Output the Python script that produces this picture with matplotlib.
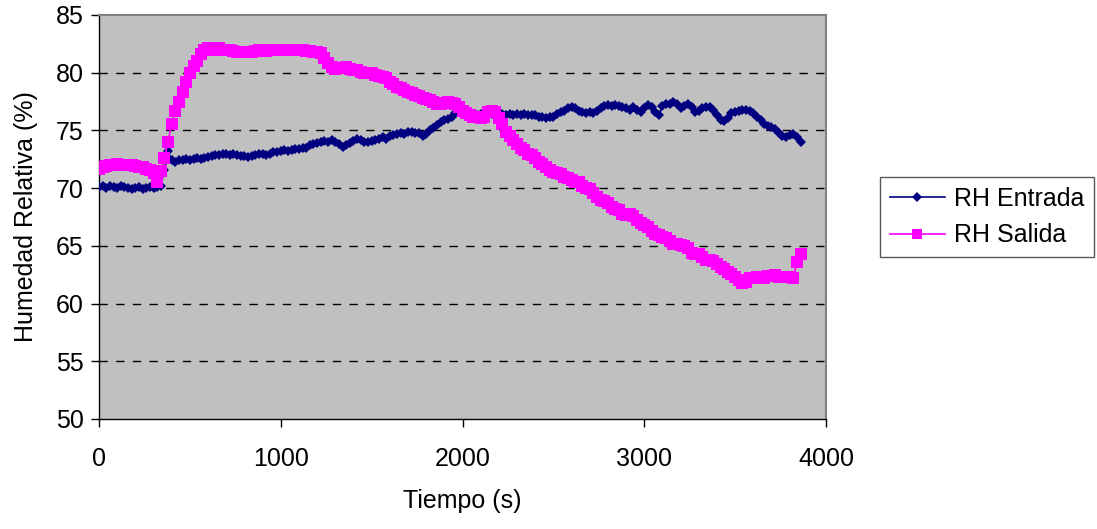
import numpy as np
import matplotlib
matplotlib.use("Agg")
import matplotlib.pyplot as plt

plt.rcParams['font.family'] = ['Liberation Sans', 'DejaVu Sans']

# Sampling times (s), one reading every 20 s
tiempo = np.arange(0, 3861, 20)

# Relative humidity at the inlet (%)
rh_entrada = [
    70.1, 70.2, 70.0, 70.2, 70.1, 70.0, 70.2, 70.1, 70.0, 69.9,
    70.0, 70.1, 69.9, 70.0, 70.1, 70.0, 70.1, 70.2, 71.6, 73.2,
    72.4, 72.3, 72.4, 72.4, 72.5, 72.4, 72.5, 72.6, 72.5, 72.6,
    72.7, 72.8, 72.9, 72.9, 73.0, 73.0, 72.9, 73.0, 72.9, 72.8,
    72.8, 72.7, 72.8, 72.9, 73.0, 73.0, 72.9, 73.0, 73.1, 73.1,
    73.2, 73.3, 73.2, 73.3, 73.4, 73.4, 73.5, 73.5, 73.7, 73.8,
    73.9, 74.0, 74.1, 74.0, 74.2, 74.0, 73.8, 73.6, 73.7, 73.9,
    74.1, 74.3, 74.2, 74.0, 74.0, 74.1, 74.2, 74.3, 74.4, 74.3,
    74.5, 74.6, 74.7, 74.8, 74.7, 74.9, 74.9, 74.8, 74.8, 74.5,
    74.7, 75.0, 75.2, 75.5, 75.7, 75.9, 76.0, 76.2, 76.5, 76.6,
    76.5, 76.4, 76.4, 76.3, 76.3, 76.4, 76.3, 76.3, 76.4, 76.3,
    76.3, 76.4, 76.3, 76.4, 76.3, 76.4, 76.3, 76.4, 76.3, 76.3,
    76.3, 76.2, 76.2, 76.1, 76.2, 76.2, 76.4, 76.6, 76.7, 76.9,
    77.0, 76.9, 76.7, 76.6, 76.5, 76.6, 76.5, 76.7, 76.9, 77.1,
    77.2, 77.1, 77.2, 77.1, 77.0, 76.9, 76.8, 77.0, 76.8, 76.6,
    76.9, 77.2, 77.0, 76.6, 76.3, 77.1, 77.3, 77.3, 77.5, 77.3,
    76.9, 77.1, 77.3, 77.0, 76.6, 76.7, 76.9, 77.0, 77.0, 76.8,
    76.3, 75.9, 75.8, 76.1, 76.5, 76.6, 76.7, 76.8, 76.8, 76.7,
    76.5, 76.2, 75.9, 75.6, 75.4, 75.3, 75.1, 74.8, 74.5, 74.4,
    74.6, 74.7, 74.4, 74.0,
]

# Relative humidity at the outlet (%)
rh_salida = [
    71.7, 71.8, 71.9, 72.0, 72.0, 72.1, 72.0, 72.0, 72.0, 72.0,
    71.9, 71.8, 71.8, 71.7, 71.6, 71.3, 70.5, 71.5, 72.6, 74.0,
    75.6, 76.7, 77.5, 78.3, 79.2, 80.0, 80.6, 81.0, 81.6, 82.0,
    82.1, 82.1, 82.0, 82.1, 82.0, 82.0, 82.0, 81.9, 81.8, 81.8,
    81.8, 81.8, 81.8, 81.9, 82.0, 82.0, 81.9, 82.0, 82.0, 82.0,
    82.0, 82.0, 82.0, 82.0, 82.0, 82.0, 82.0, 81.9, 81.9, 81.8,
    81.8, 81.7, 81.3, 80.8, 80.5, 80.3, 80.4, 80.4, 80.5, 80.3,
    80.2, 80.2, 80.1, 80.0, 80.0, 80.0, 79.8, 79.7, 79.6, 79.5,
    79.2, 79.0, 78.8, 78.7, 78.5, 78.3, 78.2, 78.1, 78.0, 77.8,
    77.7, 77.6, 77.5, 77.3, 77.3, 77.4, 77.5, 77.4, 77.3, 77.0,
    76.7, 76.5, 76.3, 76.2, 76.2, 76.1, 76.2, 76.6, 76.7, 76.6,
    76.1, 75.6, 74.9, 74.5, 74.2, 73.8, 73.5, 73.3, 73.0, 72.9,
    72.6, 72.3, 72.1, 71.8, 71.6, 71.4, 71.3, 71.2, 71.0, 70.9,
    70.7, 70.5, 70.5, 70.2, 70.0, 69.9, 69.6, 69.2, 69.0, 68.9,
    68.7, 68.4, 68.2, 68.1, 67.8, 67.7, 67.8, 67.6, 67.2, 67.0,
    66.8, 66.6, 66.3, 66.0, 65.9, 65.8, 65.7, 65.4, 65.2, 65.2,
    65.1, 65.0, 64.8, 64.4, 64.3, 64.3, 64.0, 63.8, 63.8, 63.7,
    63.4, 63.2, 63.0, 62.7, 62.6, 62.3, 62.0, 61.8, 61.9, 62.2,
    62.2, 62.3, 62.3, 62.2, 62.4, 62.4, 62.5, 62.3, 62.3, 62.3,
    62.3, 62.2, 63.6, 64.3,
]

x_ticks = [0, 1000, 2000, 3000, 4000]
y_ticks = [50, 55, 60, 65, 70, 75, 80, 85]

fig = plt.figure(figsize=(10.97, 5.29), dpi=100)
fig.patch.set_facecolor('white')
ax = fig.add_axes([99 / 1097, 1 - 419 / 529, 727 / 1097, 404 / 529])
ax.set_facecolor('#C0C0C0')

ax.plot(tiempo, rh_entrada, color='#000080', lw=1.2, marker='D',
        markersize=5.6, markeredgewidth=0, label='RH Entrada', zorder=3)
ax.plot(tiempo, rh_salida, color='#FF00FF', lw=1.2, marker='s',
        markersize=8.5, markeredgewidth=0, label='RH Salida', zorder=4)

ax.set_xlim(0, 4000)
ax.set_ylim(50, 85)
ax.set_xticks(x_ticks)
ax.set_yticks(y_ticks)

for v in y_ticks[1:-1]:
    ax.axhline(v, color='black', lw=1.0, ls=(0, (6, 6)), zorder=1)

for side in ('left', 'bottom'):
    ax.spines[side].set_color('black')
    ax.spines[side].set_linewidth(1.0)
for side in ('top', 'right'):
    ax.spines[side].set_color('#808080')
    ax.spines[side].set_linewidth(1.5)

ax.tick_params(axis='both', direction='out', length=6, width=1, colors='black',
               labelsize=18)
ax.tick_params(axis='x', pad=14)
ax.tick_params(axis='y', pad=5)

ax.set_xlabel('Tiempo (s)', fontsize=18, labelpad=13)
ax.set_ylabel('Humedad Relativa (%)', fontsize=18, labelpad=13)

leg = ax.legend(loc='center left', bbox_to_anchor=(1.074, 0.5), fontsize=18,
                frameon=True, fancybox=False, borderpad=0.4,
                handlelength=2.2, handletextpad=0.35, labelspacing=0.5,
                borderaxespad=0, markerscale=0.9)
leg.get_frame().set_edgecolor('#303030')
leg.get_frame().set_linewidth(1.0)

fig.savefig('out.png', dpi=100)
